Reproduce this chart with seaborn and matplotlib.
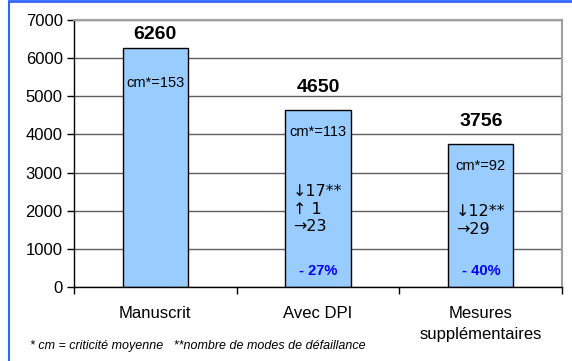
# -*- coding: utf-8 -*-

import numpy as np
import pandas as pd
import matplotlib.pyplot as plt
from matplotlib.lines import Line2D
import seaborn as sns

# données
categories = ["Manuscrit", "Avec DPI", "Mesures\nsupplémentaires"]
valeurs = [6260, 4650, 3756]
criticite = ["cm*=153", "cm*=113", "cm*=92"]
modes = ["", "\u219317**\n\u2191 1\n\u219223", "\u219312**\n\u219229"]
reduction = ["", "- 27%", "- 40%"]
note = "* cm = criticité moyenne   **nombre de modes de défaillance"

sns.set_style("white")
plt.rcParams['font.family'] = ['Liberation Sans', 'DejaVu Sans']
plt.rcParams['text.color'] = 'black'
plt.rcParams['xtick.color'] = 'black'
plt.rcParams['ytick.color'] = 'black'

df = pd.DataFrame({"cat": categories, "val": valeurs})

fig = plt.figure(figsize=(5.72, 3.61), dpi=100)
ax = fig.add_axes([0.129, 0.205, 0.854, 0.74])

ax.yaxis.grid(True, color='#606060', linewidth=1)
ax.set_axisbelow(True)

sns.barplot(data=df, x="cat", y="val", color="#99CCFF", saturation=1,
            edgecolor="black", linewidth=1, width=0.4, ax=ax)

ax.set_ylim(0, 7000)
ax.set_xlim(-0.5, 2.5)
ax.set_yticks(np.arange(0, 7001, 1000))
ax.set_xlabel("")
ax.set_ylabel("")

ax.tick_params(axis='y', direction='out', length=5, width=1, color='black',
               labelcolor='black', labelsize=12, pad=3, left=True)
ax.tick_params(axis='x', which='major', length=0, labelsize=12, pad=14,
               labelcolor='black')
ax.set_xticks([-0.5, 0.5, 1.5, 2.5], minor=True)
ax.tick_params(axis='x', which='minor', direction='out', length=5, width=1,
               color='black', bottom=True)
for lbl in ax.get_xticklabels():
    lbl.set_linespacing(1.45)

for s in ['left', 'bottom']:
    ax.spines[s].set_color('black')
    ax.spines[s].set_linewidth(1)
for s in ['top', 'right']:
    ax.spines[s].set_color('#a0a0a0')
    ax.spines[s].set_linewidth(1.5)

# étiquettes des barres
decalage = [4, 10, 10]
for i, p in enumerate(ax.patches):
    h = p.get_height()
    cx = p.get_x() + p.get_width() / 2
    ax.annotate(str(valeurs[i]), (cx, h), xytext=(0, decalage[i]),
                textcoords='offset points', ha='center', va='bottom',
                fontsize=14, fontweight='bold', color='black')
    ax.annotate(criticite[i], (cx, h), xytext=(0, -25 if i == 0 else -16),
                textcoords='offset points', ha='center', va='center',
                fontsize=10.5, color='black')
    if modes[i]:
        ax.annotate(modes[i], (p.get_x(), 0), xytext=(5.5, 56 if i == 1 else 48),
                    textcoords='offset points', ha='left', va='center',
                    fontsize=11.5, linespacing=1.2, family='DejaVu Sans',
                    color='black')
        ax.annotate(reduction[i], (cx, 0), xytext=(0, 11.5),
                    textcoords='offset points', ha='center', va='center',
                    fontsize=10.5, fontweight='bold', color='#0000FF')

fig.text(30 / 572, 1 - 346 / 361, note, fontsize=9, style='italic',
         ha='left', va='center', color='black')

# cadre bleu
fig.add_artist(Line2D([9 / 572, 9 / 572], [0, 1 - 1 / 361], transform=fig.transFigure,
                      color='#3366FF', linewidth=1.5))
fig.add_artist(Line2D([9 / 572, 1], [1 - 1 / 361, 1 - 1 / 361], transform=fig.transFigure,
                      color='#3366FF', linewidth=2))

fig.savefig("out.png", dpi=100, facecolor='white')
